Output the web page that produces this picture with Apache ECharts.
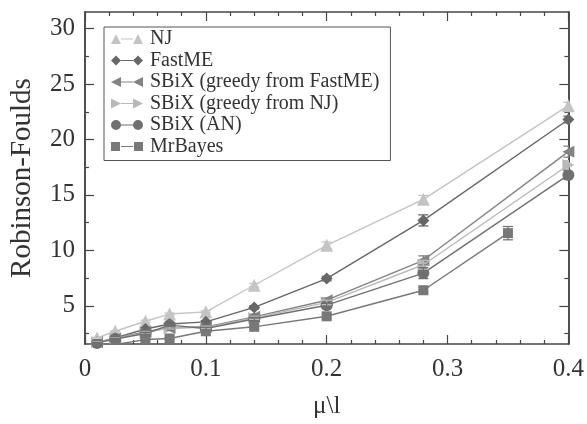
<!DOCTYPE html>
<html><head><meta charset="utf-8">
<script src="https://cdn.jsdelivr.net/npm/echarts@6/dist/echarts.min.js"></script>
<style>html,body{margin:0;padding:0;background:#fff}#c{width:587px;height:424px}</style>
</head><body><div id="c"></div>
<script>
// ---- data ----
var seriesNames = ['NJ', 'FastME', 'SBiX (greedy from FastME)', 'SBiX (greedy from NJ)', 'SBiX (AN)', 'MrBayes'];
var xMain = [0.01, 0.025, 0.05, 0.07, 0.1, 0.14, 0.2, 0.28, 0.4];
var xBayes = [0.01, 0.025, 0.05, 0.07, 0.1, 0.14, 0.2, 0.28, 0.35];
var yNJ      = [2.1, 2.7, 3.6, 4.25, 4.45, 6.85, 10.45, 14.6, 23.05];
var yFastME  = [1.7, 2.1, 2.9, 3.35, 3.55, 4.85, 7.45, 12.7, 21.8];
var yGreedyF = [1.7, 2.05, 2.65, 3.0, 3.1, 4.0, 5.5, 9.1, 18.9];
var yGreedyN = [1.7, 2.05, 2.55, 3.0, 3.05, 3.9, 5.3, 8.7, 17.7];
var yAN      = [1.65, 2.0, 2.5, 3.25, 2.95, 3.8, 5.05, 7.95, 16.8];
var yBayes   = [1.2, 1.5, 1.95, 2.05, 2.7, 3.1, 4.05, 6.4, 11.55];
var eNJ      = [0.05, 0.05, 0.1, 0.1, 0.1, 0.15, 0.3, 0.35, 0.3];
var eFastME  = [0.05, 0.05, 0.1, 0.1, 0.1, 0.15, 0.2, 0.5, 0.3];
var eGreedyF = [0.05, 0.05, 0.1, 0.1, 0.1, 0.15, 0.2, 0.4, 0.5];
var eGreedyN = [0.05, 0.05, 0.1, 0.1, 0.1, 0.15, 0.2, 0.4, 0.4];
var eAN      = [0.05, 0.05, 0.1, 0.1, 0.1, 0.15, 0.2, 0.5, 0.4];
var eBayes   = [0.05, 0.05, 0.1, 0.1, 0.1, 0.15, 0.2, 0.25, 0.6];
var xTickLabels = ['0', '0.1', '0.2', '0.3', '0.4'];
var yMajorTicks = [5, 10, 15, 20, 25, 30];
var yMinorTicks = [2.5, 7.5, 12.5, 17.5, 22.5, 27.5];
var xAxisTitle = 'μ\\l';
var yAxisTitle = 'Robinson-Foulds';

// ---- styles ----
var FONT = "'Liberation Serif', 'Times New Roman', serif";
var colors = ['#c4c4c4', '#676767', '#838383', '#b9b9b9', '#707070', '#787878'];
var LINE = 'M10,5.6 L22,5.6 L22,6.6 L10,6.6 Z ';
var icons = [
  'path://M0,11 L5,1 L10,11 Z ' + LINE + 'M22,11 L27,1 L32,11 Z',
  'path://M0,6 L5,1 L10,6 L5,11 Z ' + LINE + 'M22,6 L27,1 L32,6 L27,11 Z',
  'path://M0,6 L10,1 L10,11 Z ' + LINE + 'M22,6 L32,1 L32,11 Z',
  'path://M0,1 L10,6 L0,11 Z ' + LINE + 'M22,1 L32,6 L22,11 Z',
  'path://M0,6 A5,5 0 1,0 10,6 A5,5 0 1,0 0,6 Z ' + LINE + 'M22,6 A5,5 0 1,0 32,6 A5,5 0 1,0 22,6 Z',
  'path://M0,1.5 L9,1.5 L9,10.5 L0,10.5 Z ' + LINE + 'M23,1.5 L32,1.5 L32,10.5 L23,10.5 Z'
];
var symbols = ['triangle', 'diamond', 'path://M0,5 L10,0 L10,10 Z', 'path://M0,0 L10,5 L0,10 Z', 'circle', 'rect'];
var symbolSizes = [13, 12, 12, 12, 12, 10];

var xs = [xMain, xMain, xMain, xMain, xMain, xBayes];
var ys = [yNJ, yFastME, yGreedyF, yGreedyN, yAN, yBayes];
var es = [eNJ, eFastME, eGreedyF, eGreedyN, eAN, eBayes];

function pairs(x, y) { return x.map(function (v, i) { return [v, y[i]]; }); }
function triples(x, y, e) { return x.map(function (v, i) { return [v, y[i], e[i]]; }); }

var series = [];
for (var i = 0; i < 6; i++) {
  series.push({
    name: seriesNames[i], type: 'line', data: pairs(xs[i], ys[i]),
    symbol: symbols[i], symbolSize: symbolSizes[i],
    itemStyle: { color: colors[i] },
    lineStyle: { color: colors[i], width: 1.4 },
    z: 3 + i, clip: true
  });
}
for (var j = 0; j < 6; j++) {
  (function (col) {
    series.push({
      type: 'custom', data: triples(xs[j], ys[j], es[j]), z: 10, clip: true,
      renderItem: function (params, api) {
        var x = api.value(0), y = api.value(1), e = api.value(2);
        var top = api.coord([x, y + e]), bot = api.coord([x, y - e]);
        var w = 5;
        return {
          type: 'group', children: [
            { type: 'line', shape: { x1: top[0], y1: top[1], x2: bot[0], y2: bot[1] }, style: { stroke: col, lineWidth: 1.3 } },
            { type: 'line', shape: { x1: top[0] - w, y1: top[1], x2: top[0] + w, y2: top[1] }, style: { stroke: col, lineWidth: 1.3 } },
            { type: 'line', shape: { x1: bot[0] - w, y1: bot[1], x2: bot[0] + w, y2: bot[1] }, style: { stroke: col, lineWidth: 1.3 } }
          ]
        };
      }
    });
  })(colors[j]);
}

var axisLine = { show: true, lineStyle: { color: '#454545', width: 1.5 } };
var tickStyle = { color: '#454545', width: 1.2 };
var YMIN = 1.55, YMAX = 31.5;

function xAx(pos, labels) {
  return {
    type: 'value', position: pos, min: 0, max: 0.4, interval: 0.1,
    axisLine: axisLine,
    axisTick: { show: true, inside: true, length: 9, lineStyle: tickStyle },
    minorTick: { show: true, splitNumber: 5, length: 4, lineStyle: tickStyle },
    splitLine: { show: false },
    axisLabel: labels ? {
      show: true, fontFamily: FONT, fontSize: 25, color: '#333', margin: 13,
      formatter: function (v) { return xTickLabels[Math.round(v * 10)]; }
    } : { show: false },
    name: labels ? xAxisTitle : '', nameLocation: 'middle', nameGap: 50,
    nameTextStyle: { fontFamily: FONT, fontSize: 25, color: '#333' }
  };
}
function yAx(pos, ticks, len, labels, name) {
  return {
    type: 'value', position: pos, min: YMIN, max: YMAX,
    axisLine: axisLine,
    axisTick: { show: true, inside: true, length: len, lineStyle: tickStyle, customValues: ticks },
    splitLine: { show: false },
    axisLabel: labels ? { show: true, customValues: ticks, fontFamily: FONT, fontSize: 25, color: '#333', margin: 10 } : { show: false },
    name: name || '', nameLocation: 'middle', nameGap: 48,
    nameTextStyle: { fontFamily: FONT, fontSize: 29, color: '#333' }
  };
}

var chart = echarts.init(document.getElementById('c'), null, { renderer: 'canvas' });
chart.setOption({
  animation: false,
  backgroundColor: '#fff',
  grid: { left: 82, right: 18, top: 12, bottom: 72, containLabel: false },
  xAxis: [xAx('bottom', true), xAx('top', false)],
  yAxis: [
    yAx('left', yMajorTicks, 9, true, yAxisTitle),
    yAx('left', yMinorTicks, 4, false),
    yAx('right', yMajorTicks, 9, false),
    yAx('right', yMinorTicks, 4, false)
  ],
  legend: {
    orient: 'vertical', left: 104, top: 27,
    padding: [2, 11, 4, 7], itemGap: 1.5,
    itemWidth: 32, itemHeight: 12,
    borderColor: '#555', borderWidth: 1, backgroundColor: '#fff',
    textStyle: { fontFamily: FONT, fontSize: 20, color: '#333', lineHeight: 20, padding: [0, 0, 0, 2] },
    data: seriesNames.map(function (n, i) { return { name: n, icon: icons[i] }; })
  },
  series: series
});
</script></body></html>
